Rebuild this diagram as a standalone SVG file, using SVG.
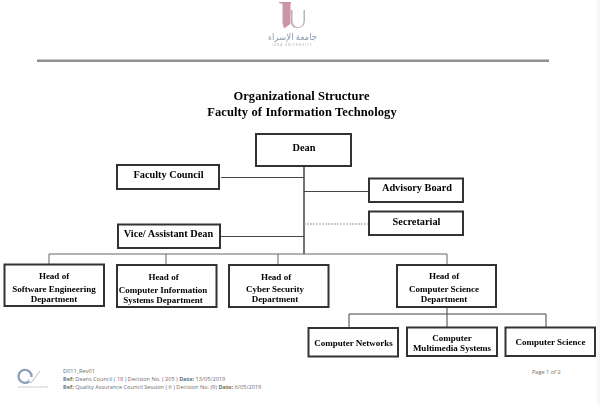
<svg xmlns="http://www.w3.org/2000/svg" width="600" height="404" viewBox="0 0 600 404">
<style>
.box{fill:#fff;stroke:#333;stroke-width:2}
.t{font-family:"Liberation Serif",serif;font-weight:bold;fill:#000;text-anchor:middle}
.s{font-size:9px}
.n{font-size:10.300px}
.f{font-family:"Open Sans","Liberation Sans",sans-serif;font-size:5.600px;fill:#6e6e6e}
.c{fill:none;stroke:#444;stroke-width:1}
</style>
<defs>
<filter id="soft" x="-10%" y="-10%" width="120%" height="120%"><feGaussianBlur stdDeviation="0.4"/></filter>
<filter id="slight" x="0" y="0" width="600" height="404" filterUnits="userSpaceOnUse"><feGaussianBlur stdDeviation="0.3"/></filter>
</defs>
<rect width="600" height="404" fill="#fff"/>
<rect x="597" y="0" width="3" height="404" fill="#f6f6f6"/>
<g id="logo" filter="url(#soft)">
<path d="M279 2H291V3.500L290.500 4V24L284 28.500L282.500 23V4L279 3Z" fill="#cb95a5"/>
<path d="M290 10H292.500V20C292.500 24.500 295 27 298 27C301.500 27 303.500 24.500 303.500 20V10H305V20C305 25.500 302 28 297 28C292.500 28 290.800 25 290.800 20V11Z" fill="#b9b5b3"/>
<text x="292.500" y="40" font-family="'Noto Sans','DejaVu Sans',sans-serif" font-size="8.600" fill="#8a99ad" text-anchor="middle" direction="rtl">جامعة الإسراء</text>
<text x="292.500" y="46" font-family="'Liberation Sans',sans-serif" font-size="3" letter-spacing="1" fill="#b5b5b5" text-anchor="middle">ISRA UNIVERSITY</text>
</g>
<rect x="37" y="59.500" width="512" height="2.500" fill="#8f8f8f"/>
<g filter="url(#slight)">
<g id="title">
<text class="t" x="301.500" y="100" font-size="12.500px" letter-spacing="0.050">Organizational Structure</text>
<text class="t" x="302" y="116" font-size="12.500px" letter-spacing="0.120">Faculty of Information Technology</text>
</g>
<g id="connectors">
<path class="c" style="stroke-width:1.500" d="M304 166V254"/>
<path class="c" d="M221 177.500H304M304 191.500H369M221 236.500H304"/>
<path class="c" stroke-dasharray="2 1" style="stroke:#999" d="M304 224H369"/>
<path class="c" style="stroke:#666" d="M49 254H447M49 254V264M166 254V265M278 254V265M447 254V265"/>
<path class="c" d="M447 307V328M349 314H546M349 314V328M546 314V328"/>
</g>
<g id="dean"><rect class="box" x="256" y="134" width="95" height="32"/><text class="t n" x="304" y="151">Dean</text></g>
<g id="faculty-council"><rect class="box" x="117" y="165" width="102" height="24"/><text class="t n" x="168.500" y="178">Faculty Council</text></g>
<g id="vice-dean"><rect class="box" x="118" y="224.500" width="102" height="23.500"/><text class="t n" x="168.500" y="237">Vice/ Assistant Dean</text></g>
<g id="advisory-board"><rect class="box" x="369" y="178.500" width="94" height="23.500"/><text class="t n" x="417" y="191">Advisory Board</text></g>
<g id="secretarial"><rect class="box" x="369" y="211.500" width="94" height="23.500"/><text class="t n" x="416.500" y="224.500">Secretarial</text></g>
<g id="head-se"><rect class="box" x="4.500" y="264.500" width="99.500" height="41.500"/><text class="t s"><tspan x="54" y="279">Head of</tspan><tspan x="54" y="292">Software Engineering</tspan><tspan x="54" y="302">Department</tspan></text></g>
<g id="head-cis"><rect class="box" x="117" y="265" width="99.500" height="42"/><text class="t s"><tspan x="163.500" y="280">Head of</tspan><tspan x="163" y="292.500">Computer Information</tspan><tspan x="163" y="303">Systems Department</tspan></text></g>
<g id="head-cyber"><rect class="box" x="229" y="265" width="99.500" height="42"/><text class="t s"><tspan x="276" y="280">Head of</tspan><tspan x="275" y="291.500">Cyber Security</tspan><tspan x="275" y="301.500">Department</tspan></text></g>
<g id="head-cs"><rect class="box" x="397" y="265" width="99" height="42"/><text class="t s"><tspan x="444" y="279">Head of</tspan><tspan x="444" y="292">Computer Science</tspan><tspan x="444" y="302">Department</tspan></text></g>
<g id="networks"><rect class="box" x="308.500" y="328" width="89.500" height="28.500"/><text class="t s" x="353.500" y="346">Computer Networks</text></g>
<g id="multimedia"><rect class="box" x="407" y="327.500" width="90" height="28.500"/><text class="t s"><tspan x="452" y="341">Computer</tspan><tspan x="452" y="350.500">Multimedia Systems</tspan></text></g>
<g id="computer-science"><rect class="box" x="505.500" y="327.500" width="89.500" height="28.500"/><text class="t s" x="550.500" y="344.500">Computer Science</text></g>
</g>
<g id="footer">
<g id="qa-logo" filter="url(#soft)">
<path d="M29 381.500A6.500 6.500 0 1 1 31.500 377" fill="none" stroke="#8da2b8" stroke-width="2.400"/>
<path d="M28 379L31 383L40 371" fill="none" stroke="#b5bec6" stroke-width="1"/>
<path d="M18 387H49" stroke="#ccd0d4" stroke-width="1.500" stroke-dasharray="1.500 0.700"/>
</g>
<text class="f" x="63" y="373">D011_Rev01</text>
<text class="f" x="63" y="381"><tspan font-weight="bold">Ref:</tspan> Deans Council ( 18 ) Decision No. ( 205 ) <tspan font-weight="bold">Date:</tspan> 13/05/2019</text>
<text class="f" x="63" y="388.500"><tspan font-weight="bold">Ref:</tspan> Quality Assurance Council Session ( 6 ) Decision No. (9) <tspan font-weight="bold">Date:</tspan> 6/05/2019</text>
<text class="f" x="532" y="373.500">Page 1 of 2</text>
</g>
</svg>
